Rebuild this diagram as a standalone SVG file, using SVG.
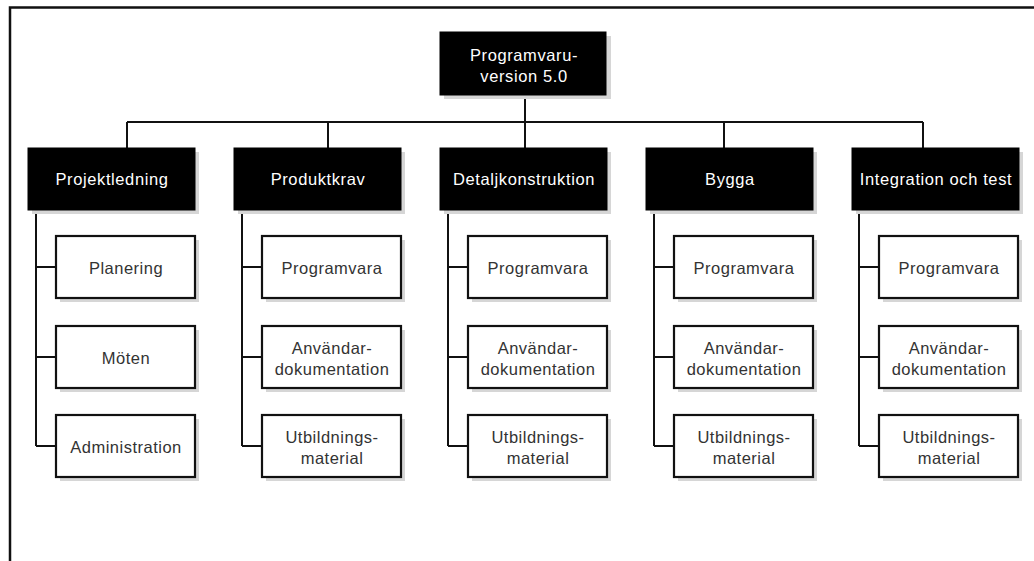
<svg xmlns="http://www.w3.org/2000/svg" width="1034" height="561" viewBox="0 0 1034 561">
<style>
.frame{fill:none;stroke:#111;stroke-width:2.5}
.conn{fill:none;stroke:#111;stroke-width:2}
.shadow{fill:#d6d6d6}
.dark{fill:#000;stroke:#000;stroke-width:1}
.light{fill:#fff;stroke:#111;stroke-width:2.2}
.tw{font-family:"Liberation Sans",Arial,sans-serif;font-size:16.5px;letter-spacing:0.6px;fill:#fff;text-anchor:middle}
.tb{font-family:"Liberation Sans",Arial,sans-serif;font-size:16.5px;letter-spacing:0.5px;fill:#333;text-anchor:middle}
</style>
<rect width="1034" height="561" fill="#fff"/>
<path class="frame" d="M10,561 V7.5 H1034"/>
<g id="connectors">
<path class="conn" d="M525,95 V148 M127,122 H923 M127,122 V148 M328,122 V148 M724,122 V148 M923,122 V148"/>
<path class="conn" d="M36,210 V446 M36,267 H56 M36,357 H56 M36,446 H56"/>
<path class="conn" d="M242,210 V446 M242,267 H262 M242,357 H262 M242,446 H262"/>
<path class="conn" d="M448,210 V446 M448,267 H468 M448,357 H468 M448,446 H468"/>
<path class="conn" d="M654,210 V446 M654,267 H674 M654,357 H674 M654,446 H674"/>
<path class="conn" d="M859,210 V446 M859,267 H879 M859,357 H879 M859,446 H879"/>
</g>
<g id="root">
<rect class="shadow" x="444" y="36" width="167" height="63"/>
<rect class="dark" x="440" y="32" width="166" height="63"/>
<text class="tw" x="524" y="61">Programvaru-</text>
<text class="tw" x="524" y="82">version 5.0</text>
</g>
<g id="projektledning">
<rect class="shadow" x="32" y="152" width="167" height="62"/>
<rect class="dark" x="28" y="148" width="167" height="62"/>
<text class="tw" x="112" y="185">Projektledning</text>
</g>
<g id="produktkrav">
<rect class="shadow" x="238" y="152" width="167" height="62"/>
<rect class="dark" x="234" y="148" width="167" height="62"/>
<text class="tw" x="318" y="185">Produktkrav</text>
</g>
<g id="detaljkonstruktion">
<rect class="shadow" x="444" y="152" width="167" height="62"/>
<rect class="dark" x="440" y="148" width="167" height="62"/>
<text class="tw" x="524" y="185">Detaljkonstruktion</text>
</g>
<g id="bygga">
<rect class="shadow" x="650" y="152" width="167" height="62"/>
<rect class="dark" x="646" y="148" width="167" height="62"/>
<text class="tw" x="730" y="185">Bygga</text>
</g>
<g id="integration">
<rect class="shadow" x="856" y="152" width="167" height="62"/>
<rect class="dark" x="852" y="148" width="167" height="62"/>
<text class="tw" x="936" y="185">Integration och test</text>
</g>
<g id="planering">
<rect class="shadow" x="60" y="240" width="139" height="62"/>
<rect class="light" x="56" y="236" width="139" height="62"/>
<text class="tb" x="126" y="274">Planering</text>
</g>
<g id="moten">
<rect class="shadow" x="60" y="330" width="139" height="62"/>
<rect class="light" x="56" y="326" width="139" height="62"/>
<text class="tb" x="126" y="364">Möten</text>
</g>
<g id="administration">
<rect class="shadow" x="60" y="419" width="139" height="62"/>
<rect class="light" x="56" y="415" width="139" height="62"/>
<text class="tb" x="126" y="453">Administration</text>
</g>
<g id="pk-programvara">
<rect class="shadow" x="266" y="240" width="139" height="62"/>
<rect class="light" x="262" y="236" width="139" height="62"/>
<text class="tb" x="332" y="274">Programvara</text>
</g>
<g id="pk-anvandar">
<rect class="shadow" x="266" y="330" width="139" height="62"/>
<rect class="light" x="262" y="326" width="139" height="62"/>
<text class="tb" x="332" y="354">Användar-</text>
<text class="tb" x="332" y="375">dokumentation</text>
</g>
<g id="pk-utbildning">
<rect class="shadow" x="266" y="419" width="139" height="62"/>
<rect class="light" x="262" y="415" width="139" height="62"/>
<text class="tb" x="332" y="443">Utbildnings-</text>
<text class="tb" x="332" y="464">material</text>
</g>
<g id="dk-programvara">
<rect class="shadow" x="472" y="240" width="139" height="62"/>
<rect class="light" x="468" y="236" width="139" height="62"/>
<text class="tb" x="538" y="274">Programvara</text>
</g>
<g id="dk-anvandar">
<rect class="shadow" x="472" y="330" width="139" height="62"/>
<rect class="light" x="468" y="326" width="139" height="62"/>
<text class="tb" x="538" y="354">Användar-</text>
<text class="tb" x="538" y="375">dokumentation</text>
</g>
<g id="dk-utbildning">
<rect class="shadow" x="472" y="419" width="139" height="62"/>
<rect class="light" x="468" y="415" width="139" height="62"/>
<text class="tb" x="538" y="443">Utbildnings-</text>
<text class="tb" x="538" y="464">material</text>
</g>
<g id="by-programvara">
<rect class="shadow" x="678" y="240" width="139" height="62"/>
<rect class="light" x="674" y="236" width="139" height="62"/>
<text class="tb" x="744" y="274">Programvara</text>
</g>
<g id="by-anvandar">
<rect class="shadow" x="678" y="330" width="139" height="62"/>
<rect class="light" x="674" y="326" width="139" height="62"/>
<text class="tb" x="744" y="354">Användar-</text>
<text class="tb" x="744" y="375">dokumentation</text>
</g>
<g id="by-utbildning">
<rect class="shadow" x="678" y="419" width="139" height="62"/>
<rect class="light" x="674" y="415" width="139" height="62"/>
<text class="tb" x="744" y="443">Utbildnings-</text>
<text class="tb" x="744" y="464">material</text>
</g>
<g id="it-programvara">
<rect class="shadow" x="883" y="240" width="139" height="62"/>
<rect class="light" x="879" y="236" width="139" height="62"/>
<text class="tb" x="949" y="274">Programvara</text>
</g>
<g id="it-anvandar">
<rect class="shadow" x="883" y="330" width="139" height="62"/>
<rect class="light" x="879" y="326" width="139" height="62"/>
<text class="tb" x="949" y="354">Användar-</text>
<text class="tb" x="949" y="375">dokumentation</text>
</g>
<g id="it-utbildning">
<rect class="shadow" x="883" y="419" width="139" height="62"/>
<rect class="light" x="879" y="415" width="139" height="62"/>
<text class="tb" x="949" y="443">Utbildnings-</text>
<text class="tb" x="949" y="464">material</text>
</g>
</svg>
